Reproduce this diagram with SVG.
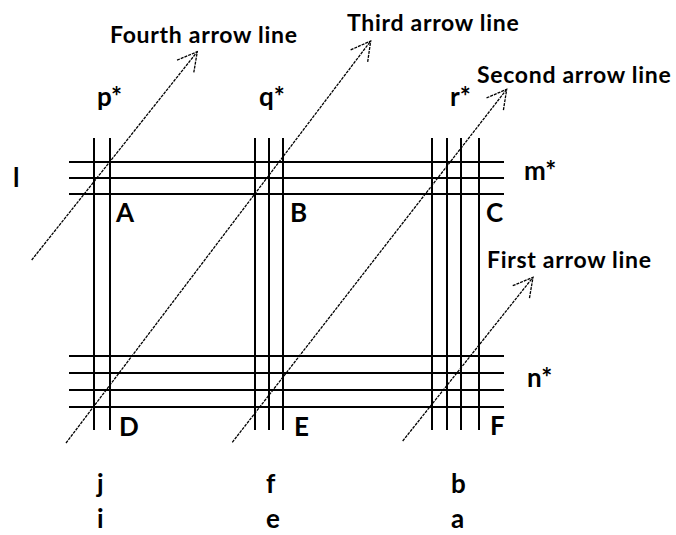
<svg xmlns="http://www.w3.org/2000/svg" width="676" height="535" viewBox="0 0 676 535">
<defs>
<style>
.g{stroke:#000;stroke-width:2;fill:none}
.d{stroke:#000;stroke-width:1.3;fill:none;stroke-dasharray:3 1}
.t{font-family:Lato,"Liberation Sans",sans-serif;font-weight:bold;fill:#000}
.big{font-size:26px}
.lab{font-size:23px;letter-spacing:0.7px}
</style>
<marker id="ah" markerUnits="userSpaceOnUse" viewBox="-25 -15 30 30" refX="0" refY="0" markerWidth="30" markerHeight="30" orient="auto" overflow="visible">
<path d="M-19.2,-10.6 L0,0 L-19.2,10.6" stroke="#000" stroke-width="1.3" fill="none" stroke-dasharray="3 1"/>
</marker>
</defs>
<rect width="676" height="535" fill="#fff"/>
<g id="grid">
<g id="verticals-p">
<line class="g" x1="94" y1="138" x2="94" y2="430"/>
<line class="g" x1="110" y1="138" x2="110" y2="430"/>
</g>
<g id="verticals-q">
<line class="g" x1="255" y1="138" x2="255" y2="430"/>
<line class="g" x1="269" y1="138" x2="269" y2="430"/>
<line class="g" x1="283" y1="138" x2="283" y2="430"/>
</g>
<g id="verticals-r">
<line class="g" x1="432" y1="138" x2="432" y2="430"/>
<line class="g" x1="447" y1="138" x2="447" y2="430"/>
<line class="g" x1="461" y1="138" x2="461" y2="430"/>
<line class="g" x1="479" y1="138" x2="479" y2="430"/>
</g>
<g id="horizontals-m">
<line class="g" x1="69" y1="162" x2="504" y2="162"/>
<line class="g" x1="69" y1="178" x2="504" y2="178"/>
<line class="g" x1="69" y1="194" x2="504" y2="194"/>
</g>
<g id="horizontals-n">
<line class="g" x1="69" y1="356" x2="504" y2="356"/>
<line class="g" x1="69" y1="373" x2="504" y2="373"/>
<line class="g" x1="69" y1="390" x2="504" y2="390"/>
<line class="g" x1="69" y1="407" x2="504" y2="407"/>
</g>
</g>
<g id="connectors">
<line id="fourth-arrow" class="d" x1="31.7" y1="260" x2="197.3" y2="51.7" marker-end="url(#ah)"/>
<line id="third-arrow" class="d" x1="66" y1="443" x2="370.7" y2="41" marker-end="url(#ah)"/>
<line id="second-arrow" class="d" x1="232.3" y1="442.3" x2="506.7" y2="89.3" marker-end="url(#ah)"/>
<line id="first-arrow" class="d" x1="402.7" y1="441" x2="533" y2="277.3" marker-end="url(#ah)"/>
</g>
<g id="arrow-labels" class="t lab">
<text id="lbl-fourth" x="110" y="43">Fourth arrow line</text>
<text id="lbl-third" x="347" y="31">Third arrow line</text>
<text id="lbl-second" x="477" y="83">Second arrow line</text>
<text id="lbl-first" x="487" y="268">First arrow line</text>
</g>
<g id="labels" class="t big">
<text id="p" x="97" y="106">p*</text>
<text id="q" x="259" y="106">q*</text>
<text id="r" x="450" y="106">r*</text>
<text id="l" x="13" y="187">l</text>
<text id="m" x="524" y="180">m*</text>
<text id="n" x="527" y="387">n*</text>
<text id="A" x="116" y="222">A</text>
<text id="B" x="290" y="222">B</text>
<text id="C" x="486" y="222">C</text>
<text id="D" x="119" y="436">D</text>
<text id="E" x="294" y="436">E</text>
<text id="F" x="490" y="435">F</text>
<text id="j" x="97" y="493">j</text>
<text id="f" x="266" y="493">f</text>
<text id="b" x="451" y="493">b</text>
<text id="i" x="97" y="528">i</text>
<text id="e" x="266" y="528">e</text>
<text id="a" x="451" y="528">a</text>
</g>
</svg>
